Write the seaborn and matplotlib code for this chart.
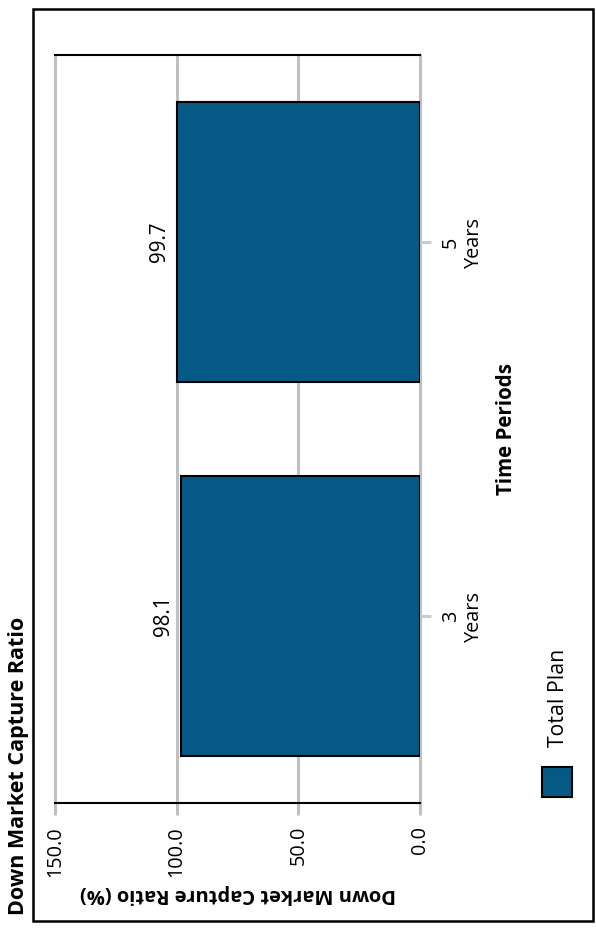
import matplotlib
matplotlib.use("Agg")
import matplotlib.pyplot as plt
from matplotlib.patches import Rectangle
import seaborn as sns
import pandas as pd

# chart data
periods = ["3\nYears", "5\nYears"]
capture_ratio = [98.1, 99.7]
series_name = "Total Plan"
value_ticks = [0, 50, 100, 150]

title = "Down Market Capture Ratio"
value_label = "Down Market Capture Ratio (%)"
period_label = "Time Periods"

bar_color = "#045a84"
grid_color = "#c0c0c0"

sns.set_theme(style="white")
plt.rcParams["font.family"] = ["Open Sans", "DejaVu Sans"]
plt.rcParams["text.color"] = "black"
plt.rcParams["axes.labelcolor"] = "black"

df = pd.DataFrame({"period": periods, "value": capture_ratio})

W, H = 596, 930
fig = plt.figure(figsize=(W / 100, H / 100), dpi=100)
ax = fig.add_axes([55 / W, (H - 803) / H, 365 / W, 748 / H])

# chart is drawn turned a quarter turn: bars run right-to-left
sns.barplot(data=df, x="value", y="period", orient="h", color=bar_color,
            edgecolor="black", linewidth=1.5, width=0.75, saturation=1,
            ax=ax, zorder=3)

ax.set_xlim(150, 0)
ax.set_ylim(-0.5, 1.5)
ax.set_xticks(value_ticks)
ax.set_xticklabels([f"{v:.1f}" for v in value_ticks], rotation=90)
ax.grid(axis="x", color=grid_color, linewidth=2.2, zorder=0)
ax.grid(axis="y", visible=False)
ax.set_axisbelow(True)
for gl in ax.get_xgridlines():
    gl.set_clip_on(False)

ax.tick_params(axis="x", bottom=True, length=8.5, width=2.2, color=grid_color,
               pad=8, labelsize=14.3, labelcolor="black")
ax.yaxis.tick_right()
ax.tick_params(axis="y", right=True, left=False, length=8, width=2.2,
               color="#c8ccd0", pad=7, labelsize=14.3, labelcolor="black")
for lab in ax.get_yticklabels():
    lab.set_rotation(90)
    lab.set_va("center")
    lab.set_multialignment("center")

for side in ["left", "right"]:
    ax.spines[side].set_visible(False)
for side in ["top", "bottom"]:
    ax.spines[side].set_color("black")
    ax.spines[side].set_linewidth(1.5)
    ax.spines[side].set_zorder(4)

ax.bar_label(ax.containers[0], fmt="%.1f", rotation=90, padding=5,
             fontsize=14.8, color="black")

ax.set_xlabel(value_label, fontsize=14.5, fontweight="bold", rotation=180)
ax.xaxis.label.set_va("center")
ax.xaxis.set_label_coords(0.5, -(894 - 803) / 748)

ax.yaxis.set_label_position("right")
ax.set_ylabel(period_label, fontsize=14.8, fontweight="bold", rotation=90)
ax.yaxis.label.set_va("center")
ax.yaxis.set_label_coords((507 - 55) / 365, 0.5)

# title along the left edge
fig.text(19 / W, (H - 915) / H, title, rotation=90, fontsize=15.5,
         fontweight="bold", ha="center", va="bottom")

# legend: swatch with rotated name above it
fig.patches.append(Rectangle((542 / W, (H - 797) / H), 30 / W, 30 / H,
                             transform=fig.transFigure, facecolor=bar_color,
                             edgecolor="black", linewidth=1.5))
fig.text(558 / W, (H - 747) / H, series_name, rotation=90, fontsize=15.3,
         ha="center", va="bottom")

# outer frame
fig.patches.append(Rectangle((33 / W, (H - 921) / H), 560 / W, 912 / H,
                             transform=fig.transFigure, fill=False,
                             edgecolor="black", linewidth=1.8))

fig.savefig("out.png", dpi=100)
